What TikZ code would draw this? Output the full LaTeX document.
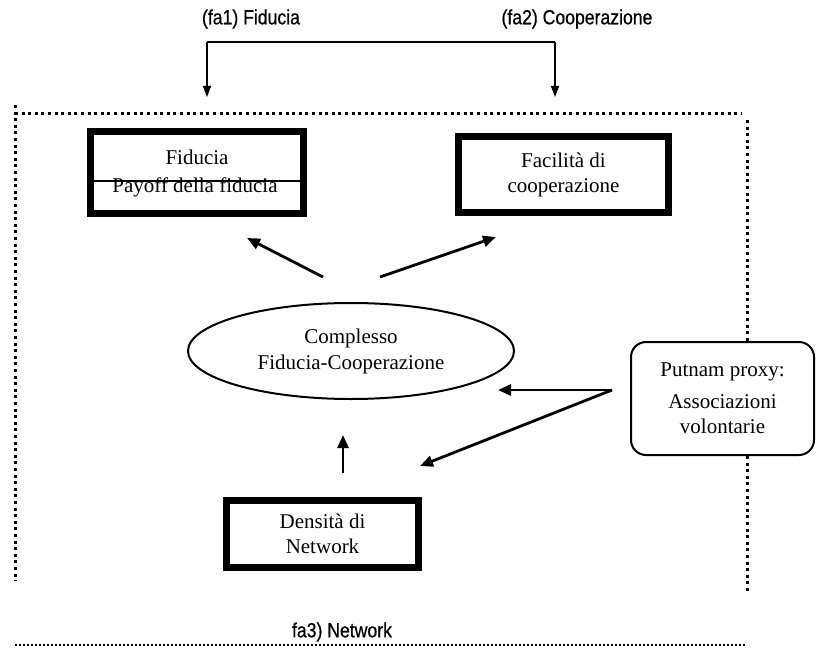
\documentclass[tikz,border=0pt]{standalone}
\usepackage{fontspec}
\setmainfont{Liberation Serif}
\newfontfamily\lblfont[FakeStretch=0.86,FakeBold=0.6]{Liberation Sans}
\usetikzlibrary{arrows.meta,shapes.geometric}
\begin{document}
\begin{tikzpicture}[x=1bp,y=-1bp,
  tbox/.style={draw,line width=7bp,inner sep=0pt,align=center,font=\fontsize{21bp}{25bp}\selectfont},
  txt/.style={inner sep=0pt,align=center,font=\fontsize{21bp}{25bp}\selectfont},
  lbl/.style={inner sep=0pt,font=\lblfont\fontsize{20.5bp}{23bp}\selectfont},
  bigarrow/.style={line width=2.8bp,-{Triangle[length=13bp,width=11bp]}},
  thinline/.style={line width=1.3bp},
  thinarrow/.style={line width=1.3bp,-{Triangle[length=11bp,width=8bp]}},
  framedot/.style={line width=3bp,dash pattern=on 3bp off 3.6bp},
  thindot/.style={line width=1.2bp,dash pattern=on 2bp off 2bp}]
\useasboundingbox (0,0) rectangle (816,653);

% top labels and bracket
\node[lbl] (fa1) at (251,19) {(fa1) Fiducia};
\node[lbl] (fa2) at (577,19) {(fa2) Cooperazione};
\coordinate (bl) at (207,42);
\coordinate (br) at (555,42);
\coordinate (tl) at (207,97);
\coordinate (tr) at (555,97);
\draw[thinline] (bl) -- (br);
\draw[thinarrow] (bl) -- (tl);
\draw[thinarrow] (br) -- (tr);

% dotted frame
\coordinate (ftl) at (15,105);
\coordinate (ftop) at (15,114);
\coordinate (ftopr) at (742,114);
\coordinate (fbl) at (15,581);
\coordinate (rt) at (747,120);
\coordinate (rb) at (747,593);

% boxes
\node[tbox,minimum width=213bp,minimum height=82bp] (fid) at (197,172.5) {};
\node[txt] (fidt) at (197,157) {Fiducia};
\node[txt] (payt) at (195,187) {Payoff della fiducia};
\coordinate (dl) at (90.5,181);
\coordinate (dr) at (303.5,181);
\draw[thinline] (dl) -- (dr);

\node[tbox,minimum width=210bp,minimum height=75bp] (fac) at (563.5,174.5) {Facilità di\\cooperazione};

\node[draw,ellipse,line width=2bp,inner sep=0pt,minimum width=326bp,minimum height=96bp,align=center,font=\fontsize{21bp}{26bp}\selectfont] (cfc) at (351,351) {Complesso\\Fiducia-Cooperazione};

\node[tbox,minimum width=192bp,minimum height=67bp] (den) at (322.5,534) {Densità di\\Network};

\node[draw,rounded corners=15bp,line width=2bp,minimum width=183bp,minimum height=113bp,align=center,inner sep=0pt,font=\fontsize{21bp}{25bp}\selectfont] (put) at (722.5,398.5) {Putnam proxy:\\[7bp]Associazioni\\volontarie};

% dotted frame drawing
\draw[framedot] (ftl) -- (fbl);
\draw[framedot] (ftop) -- (ftopr);
\draw[framedot] (rt) -- (rt |- put.north);
\draw[framedot] (rt |- put.south) -- (rb);

% arrows
\coordinate (a1s) at (323,277);
\coordinate (a1e) at (247,238);
\coordinate (a2s) at (380,277);
\coordinate (a2e) at (496,237);
\coordinate (a3s) at (343,473);
\coordinate (a3e) at (343,435);
\coordinate (a4s) at (612,390);
\coordinate (a4e) at (498,390);
\coordinate (a5e) at (420,466);
\draw[bigarrow] (a1s) -- (a1e);
\draw[bigarrow] (a2s) -- (a2e);
\draw[bigarrow] (a3s) -- (a3e);
\draw[bigarrow] (a4s) -- (a4e);
\draw[bigarrow] (a4s) -- (a5e);

% bottom label and line
\node[lbl] (fa3) at (342,632) {fa3) Network};
\coordinate (bll) at (15,645);
\coordinate (blr) at (745,645);
\draw[thindot] (bll) -- (blr);
\end{tikzpicture}
\end{document}
